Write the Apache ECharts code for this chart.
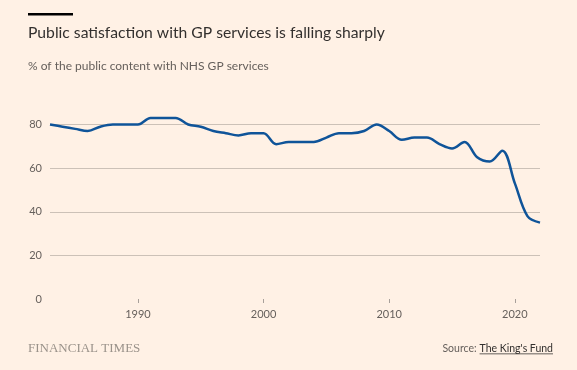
<!DOCTYPE html>
<html>
<head>
<meta charset="utf-8">
<script src="https://cdn.jsdelivr.net/npm/echarts@6/dist/echarts.min.js"></script>
<style>
html,body{margin:0;padding:0;background:#fff1e5;}
#chart{width:577px;height:370px;}
</style>
</head>
<body>
<div id="chart"></div>
<script>
const years = [1983,1984,1985,1986,1987,1988,1989,1990,1991,1992,1993,1994,1995,1996,1997,1998,1999,2000,2001,2002,2003,2004,2005,2006,2007,2008,2009,2010,2011,2012,2013,2014,2015,2016,2017,2018,2019,2020,2021,2022];
const satisfaction = [80,79,78,77,79,80,80,80,83,83,83,80,79,77,76,75,76,76,71,72,72,72,74,76,76,77,80,77,73,74,74,71,69,72,65,63,68,53,38,35];
const yTicks = [0,20,40,60,80];
const xTickLabels = [1990,2000,2010,2020];

const FONT = 'Lato, "Noto Sans", sans-serif';
const srcFont = '10.5px ' + FONT;
const mctx = document.createElement('canvas').getContext('2d');
mctx.font = srcFont;
const linkText = "The King's Fund";
const linkW = mctx.measureText(linkText).width;
const linkRight = 553;
const linkLeft = linkRight - linkW;

const chart = echarts.init(document.getElementById('chart'), null, {renderer:'canvas'});
chart.setOption({
  backgroundColor:'#fff1e5',
  animation:false,
  title:[
    {text:'Public satisfaction with GP services is falling sharply', left:28, top:25, padding:0,
     textStyle:{fontFamily:FONT, fontSize:15.7, fontWeight:'normal', color:'#33302e'}},
    {text:'% of the public content with NHS GP services', left:28, top:60, padding:0,
     textStyle:{fontFamily:FONT, fontSize:12, fontWeight:'normal', color:'#66605c'}}
  ],
  graphic:[
    {type:'rect', left:28, top:13, shape:{width:45, height:2.5}, style:{fill:'#000'}},
    {type:'text', left:28, top:342, style:{text:'FINANCIAL TIMES', font:'13px "Liberation Serif", serif', fill:'#9a928a'}},
    {type:'text', style:{x:linkLeft-3, y:343, text:'Source:', font:srcFont, fill:'#66605c', textAlign:'right', textVerticalAlign:'top'}},
    {type:'text', style:{x:linkLeft, y:343, text:linkText, font:srcFont, fill:'#33302e', textAlign:'left', textVerticalAlign:'top'}},
    {type:'rect', shape:{x:linkLeft, y:353.5, width:linkW, height:0.8}, style:{fill:'#33302e'}}
  ],
  grid:{left:50, right:37, top:124.5, bottom:71},
  xAxis:{
    type:'value', min:1983, max:2022,
    axisLine:{show:false},
    splitLine:{show:false},
    axisTick:{show:true, length:4, customValues:xTickLabels, lineStyle:{color:'#a8a09a'}},
    axisLabel:{customValues:xTickLabels, fontFamily:FONT, fontSize:11, color:'#66605c', margin:10, formatter:v=>String(v)}
  },
  yAxis:{
    type:'value', min:0, max:80, interval:20,
    axisLine:{show:false}, axisTick:{show:false},
    splitLine:{show:true, showMinLine:false, lineStyle:{color:'#ccc1b7', width:1}},
    axisLabel:{fontFamily:FONT, fontSize:11, color:'#66605c', margin:8,
      customValues:yTicks, formatter:v=>String(v)}
  },
  series:[{
    type:'line', data:years.map((y,i)=>[y,satisfaction[i]]),
    smooth:0.35, showSymbol:false, clip:false,
    lineStyle:{color:'#0f5499', width:2.5}
  }]
});
</script>
</body>
</html>
